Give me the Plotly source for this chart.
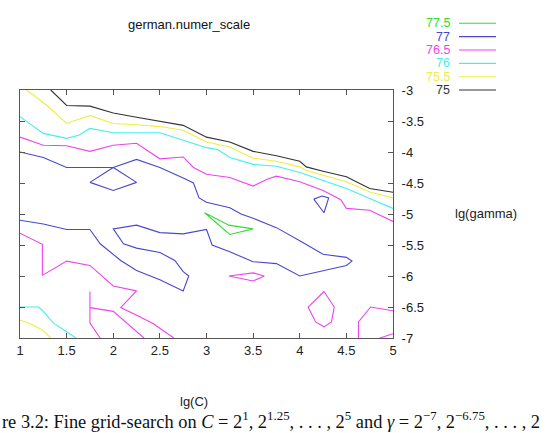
import plotly.graph_objects as go

# ---- contour level labels and colours ----
levels = ["77.5", "77", "76.5", "76", "75.5", "75"]
level_colors = ["#33dd33", "#4848cc", "#ee44ee", "#44eeee", "#eeee44", "#333333"]

# ---- contour lines (lg(C), lg(gamma)); None separates separate pieces ----
c75_x = [1.33, 1.5, 1.75, 2.0, 2.25, 2.5, 2.75, 3.0, 3.25, 3.5, 3.75, 4.0, 4.07, 4.25, 4.5, 4.75, 5.0]
c75_y = [-3.0, -3.25, -3.26, -3.37, -3.44, -3.51, -3.57, -3.76, -3.84, -3.99, -4.06, -4.15, -4.24, -4.31, -4.4, -4.59, -4.65]

c755_x = [1.07, 1.29, 1.5, 1.58, 1.75, 1.92, 2.0, 2.25, 2.5, 2.75, 3.0, 3.25, 3.5, 3.75, 4.0, 4.07, 4.25, 4.5, 4.76, 5.0,
          None, 1.0, 1.11, 1.24, 1.33]
c755_y = [-3.0, -3.25, -3.54, -3.5, -3.41, -3.5, -3.54, -3.56, -3.59, -3.65, -3.84, -3.92, -4.1, -4.15, -4.24, -4.3, -4.38, -4.48, -4.65, -4.74,
          None, -6.71, -6.77, -6.87, -7.0]

c76_x = [1.0, 1.25, 1.5, 1.63, 1.75, 2.0, 2.25, 2.5, 2.75, 3.0, 3.12, 3.25, 3.5, 3.75, 4.0, 4.25, 4.5, 4.75, 5.0,
         None, 1.0, 1.2, 1.25, 1.36, 1.5, 1.6]
c76_y = [-3.43, -3.7, -3.78, -3.73, -3.62, -3.69, -3.69, -3.69, -3.81, -3.93, -3.96, -4.09, -4.2, -4.23, -4.33, -4.46, -4.59, -4.75, -4.91,
         None, -6.5, -6.5, -6.57, -6.76, -6.9, -7.0]

c765_x = [1.0, 1.25, 1.5, 1.75, 2.0, 2.25, 2.5, 2.75, 2.86, 3.0, 3.25, 3.5, 3.65, 3.75, 4.0, 4.25, 4.44, 4.5, 4.75, 5.0,
          None, 1.0, 1.24, 1.24, 1.5, 1.75, 2.0, 2.25, 2.08, 2.29, 2.43, 2.65,
          None, 1.86, 1.75, 1.75, 1.75,
          None, 1.75, 2.0, 2.33,
          None, 3.24, 3.5, 3.62, 3.5, 3.24,
          None, 4.26, 4.37, 4.34, 4.26, 4.17, 4.09, 4.26,
          None, 4.63, 4.63, 4.76, 5.0,
          None, 4.86, 5.0]
c765_y = [-3.76, -3.89, -3.9, -3.99, -3.89, -3.86, -4.11, -4.08, -4.25, -4.36, -4.41, -4.55, -4.44, -4.39, -4.48, -4.62, -4.77, -4.91, -4.94, -5.12,
          None, -5.31, -5.49, -5.99, -5.76, -5.83, -6.16, -6.24, -6.51, -6.66, -6.77, -7.0,
          None, -7.0, -6.76, -6.51, -6.25,
          None, -6.51, -6.57, -7.0,
          None, -6.0, -5.95, -6.0, -6.08, -6.0,
          None, -6.25, -6.5, -6.74, -6.82, -6.74, -6.5, -6.25,
          None, -7.0, -6.74, -6.5, -6.56,
          None, -7.0, -6.93]

c77_x = [1.0, 1.25, 1.5, 1.75, 2.0, 2.25, 2.5, 2.75, 2.86, 2.92, 3.0, 3.25, 3.37, 3.5, 3.75, 4.0, 4.25, 4.5, 4.56, 4.5,
         4.0, 3.75, 3.5, 3.25, 3.06, 3.0, 2.75, 2.5, 2.25, 2.0, 2.11, 2.25, 2.5, 2.66, 2.75, 2.81, 2.75, 2.5, 2.25,
         2.08, 1.86, 1.75, 1.5, 1.25, 1.0,
         None, 1.75, 2.0, 2.25, 2.0, 1.75,
         None, 4.15, 4.24, 4.31, 4.26, 4.15]
c77_y = [-4.0, -4.09, -4.25, -4.25, -4.25, -4.12, -4.25, -4.42, -4.5, -4.74, -4.81, -4.9, -5.0, -5.07, -5.22, -5.43, -5.65, -5.7, -5.76, -5.83,
         -6.0, -5.8, -5.77, -5.61, -5.5, -5.25, -5.32, -5.3, -5.18, -5.24, -5.48, -5.55, -5.62, -5.75, -5.93, -6.0, -6.24, -6.06, -5.91,
         -5.75, -5.48, -5.25, -5.25, -5.16, -5.1,
         None, -4.49, -4.25, -4.49, -4.62, -4.49,
         None, -4.76, -4.71, -4.74, -4.98, -4.76]

c775_x = [2.98, 3.24, 3.5, 3.25, 2.98]
c775_y = [-4.98, -5.18, -5.24, -5.33, -4.98]

x_ticks = [1, 1.5, 2, 2.5, 3, 3.5, 4, 4.5, 5]
x_tick_text = ["1", "1.5", "2", "2.5", "3", "3.5", "4", "4.5", "5"]
y_ticks = [-7, -6.5, -6, -5.5, -5, -4.5, -4, -3.5, -3]
y_tick_text = ["-7", "-6.5", "-6", "-5.5", "-5", "-4.5", "-4", "-3.5", "-3"]

W, H = 553, 433
ML, MR, MT, MB = 20, 160, 90, 95
PW, PH = W - ML - MR, H - MT - MB


def px(x):
    return (x - ML) / PW


def py(y):
    return (H - MB - y) / PH


FONT = "Liberation Sans, Arial, sans-serif"

fig = go.Figure()
series = [(c775_x, c775_y), (c77_x, c77_y), (c765_x, c765_y), (c76_x, c76_y), (c755_x, c755_y), (c75_x, c75_y)]
for (xs, ys), name, col in zip(series, levels, level_colors):
    fig.add_trace(go.Scatter(x=xs, y=ys, mode="lines", name=name,
                             line=dict(color=col, width=1.1), connectgaps=False,
                             showlegend=False, hoverinfo="skip"))

annotations = []
shapes = []
# manual gnuplot-style key
for i, (name, col) in enumerate(zip(levels, level_colors)):
    yy = 23.3 + i * 13.35
    annotations.append(dict(x=px(452), y=py(yy), xref="paper", yref="paper", text=name,
                            showarrow=False, xanchor="right", yanchor="middle",
                            font=dict(family=FONT, size=12.5, color=col)))
    shapes.append(dict(type="line", xref="paper", yref="paper", x0=px(459), x1=px(496),
                       y0=py(yy), y1=py(yy), line=dict(color=col, width=1.1)))

annotations += [
    dict(x=px(189), y=py(25), xref="paper", yref="paper", text="german.numer_scale",
         showarrow=False, xanchor="center", yanchor="middle",
         font=dict(family=FONT, size=13, color="#111111")),
    dict(x=px(194), y=py(401), xref="paper", yref="paper", text="lg(C)",
         showarrow=False, xanchor="center", yanchor="middle",
         font=dict(family=FONT, size=13, color="#222222")),
    dict(x=px(453), y=py(213), xref="paper", yref="paper", text="lg(gamma)",
         showarrow=False, xanchor="left", yanchor="middle",
         font=dict(family=FONT, size=13, color="#222222")),
    dict(x=px(0), y=py(420), xref="paper", yref="paper",
         text="re 3.2: Fine grid-search on <i>C</i> = 2<sup>1</sup>, 2<sup>1.25</sup>, . . . , 2<sup>5</sup> and <i>γ</i> = 2<sup>−7</sup>, 2<sup>−6.75</sup>, . . . , 2",
         showarrow=False, xanchor="left", yanchor="middle",
         font=dict(family="Liberation Serif, serif", size=18.4, color="#111111")),
]

fig.update_layout(
    width=W, height=H,
    margin=dict(l=ML, r=MR, t=MT, b=MB, pad=0),
    paper_bgcolor="white", plot_bgcolor="white",
    showlegend=False,
    annotations=annotations, shapes=shapes,
    xaxis=dict(range=[1, 5], tickvals=x_ticks, ticktext=x_tick_text,
               showgrid=False, zeroline=False, showline=True, linecolor="#555555", linewidth=1,
               mirror="ticks", ticks="inside", ticklen=5, tickcolor="#555555",
               tickfont=dict(family=FONT, size=13, color="#222222")),
    yaxis=dict(range=[-7, -3], tickvals=y_ticks, ticktext=y_tick_text, side="right",
               showgrid=False, zeroline=False, showline=True, linecolor="#555555", linewidth=1,
               mirror="ticks", ticks="inside", ticklen=5, tickcolor="#555555",
               ticklabelstandoff=5,
               tickfont=dict(family=FONT, size=13, color="#222222")),
)

fig.write_html("out.html")
